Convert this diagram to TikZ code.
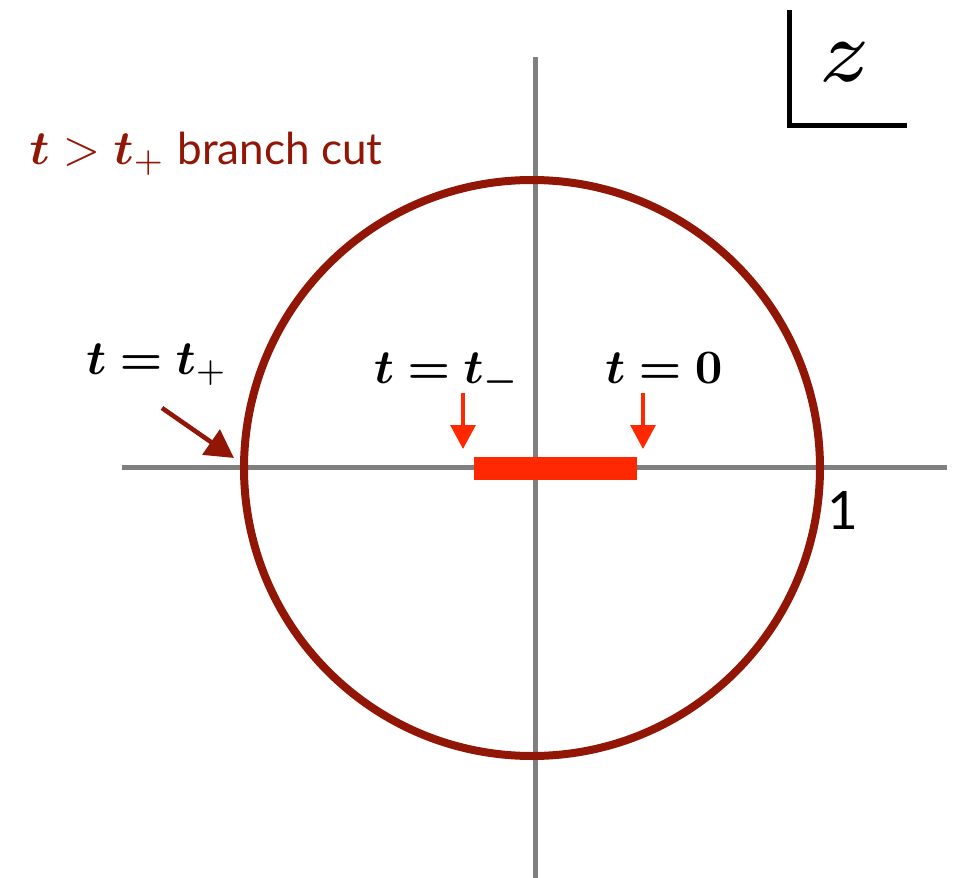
\documentclass[tikz,border=0pt]{standalone}
\usepackage{fontspec}
\usepackage{bm}
\newfontfamily\lato{Lato}
\usetikzlibrary{arrows.meta}
\definecolor{darkred}{RGB}{145,22,6}
\definecolor{brightred}{RGB}{255,40,0}
\definecolor{axisgray}{RGB}{128,128,128}
\tikzset{
  axisline/.style={draw=axisgray,line width=2.5pt},
  mathlabel/.style={inner sep=0pt},
  redarrow/.style={draw=brightred,line width=1.6pt,-{Triangle[width=12.5pt,length=12pt]}},
  cutarrow/.style={draw=darkred,line width=2.3pt,-{Triangle[width=15pt,length=14pt]}},
}
\begin{document}
\begin{tikzpicture}[x=0.5pt,y=-0.5pt]
\useasboundingbox (0,0) rectangle (960,878);
% axes
\coordinate (hl) at (122,467);
\coordinate (hr) at (947,467);
\coordinate (vt) at (535,57);
\coordinate (vb) at (535,878);
\draw[axisline] (hl) -- (hr);
\draw[axisline] (vt) -- (vb);
% circle
\coordinate (c) at (532,468);
\draw[darkred,line width=4pt] (c) circle[radius=288];
% red bar
\coordinate (bl) at (474,468);
\coordinate (br) at (637,468);
\draw[brightred,line width=11.5pt] (bl) -- (br);
% labels
\node[mathlabel,anchor=base] (tm) at (447,383) {\scalebox{2.4}{$\bm{t}\bm{=}\bm{t}_{\bm{-}}$}};
\node[mathlabel,anchor=base] (t0) at (664,383) {\scalebox{2.4}{$\bm{t}\bm{=}\bm{0}$}};
\node[mathlabel,anchor=base] (tp) at (157,374) {\scalebox{2.4}{$\bm{t}\bm{=}\bm{t}_{+}$}};
\node[inner sep=0pt,anchor=base,text=darkred] (bc) at (206,164) {\scalebox{2.4}{$\bm{t}>\bm{t}_{+}$}\hspace{6pt}{\lato\fontsize{22}{26}\selectfont branch cut}};
\node[inner sep=0pt,font=\lato\fontsize{26.5}{30}\selectfont] (one) at (843,510) {1};
\node[inner sep=0pt] (z) at (845,62) {\scalebox{6.4}{$\scriptstyle z$}};
% arrows
\coordinate (a1s) at (463,393);
\coordinate (a1e) at (463,449);
\coordinate (a2s) at (643,393);
\coordinate (a2e) at (643,449);
\draw[redarrow] (a1s) -- (a1e);
\draw[redarrow] (a2s) -- (a2e);
\coordinate (cps) at (162,408);
\coordinate (cpe) at (234,458);
\draw[cutarrow] (cps) -- (cpe);
% z box
\coordinate (zt) at (789,10);
\coordinate (zc) at (789,125);
\coordinate (zr) at (907,125);
\draw[line width=2.5pt] (zt) -- (zc) -- (zr);
\end{tikzpicture}
\end{document}
